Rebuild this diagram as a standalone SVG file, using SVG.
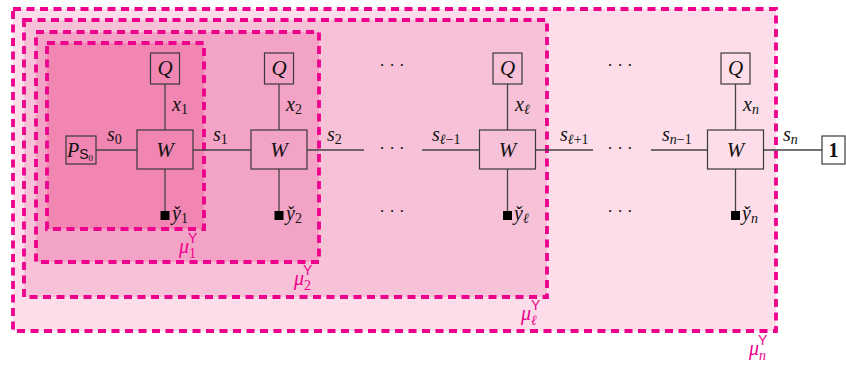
<svg xmlns="http://www.w3.org/2000/svg" width="846" height="371" viewBox="0 0 846 371">
<style>
.reg{stroke:#ec008c;stroke-width:3.8;stroke-dasharray:8 5.5}
.box{fill:none;stroke:#3a3a3a;stroke-width:1.2}
.ln{stroke:#444;stroke-width:1.3;fill:none}
.m{font-family:"Liberation Serif",serif;font-style:italic;font-size:20px;fill:#111}
.big{font-size:21px}
.up{font-family:"Liberation Serif",serif;font-style:normal}
.sub{font-size:14px}
.sf{font-family:"Liberation Sans","DejaVu Sans",sans-serif;font-style:normal}
.mu{font-family:"Liberation Serif",serif;font-style:italic;font-size:20px;fill:#ec008c}
.dots{font-family:"Liberation Serif",serif;font-size:17px;fill:#111;text-anchor:middle}
.sq{fill:#000}
</style>
<g id="regions">
<rect id="mu_n" class="reg" x="13" y="9" width="763" height="322" fill="#fcdde9"/>
<rect id="mu_l" class="reg" x="24" y="20" width="523" height="277" fill="#f7c1d7"/>
<rect id="mu_2" class="reg" x="36" y="32" width="283" height="230" fill="#f3a3c5"/>
<rect id="mu_1" class="reg" x="47" y="43" width="157" height="186" fill="#f086b1"/>
</g>
<g id="connectors">
<line class="ln" x1="96" y1="150" x2="137" y2="150"/>
<line class="ln" x1="193" y1="150" x2="251" y2="150"/>
<line class="ln" x1="307" y1="150" x2="364" y2="150"/>
<line class="ln" x1="422" y1="150" x2="479.5" y2="150"/>
<line class="ln" x1="535.5" y1="150" x2="593" y2="150"/>
<line class="ln" x1="651" y1="150" x2="707.5" y2="150"/>
<line class="ln" x1="763.5" y1="150" x2="822" y2="150"/>
<line class="ln" x1="165" y1="84" x2="165" y2="130"/>
<line class="ln" x1="279" y1="84" x2="279" y2="130"/>
<line class="ln" x1="507.5" y1="84" x2="507.5" y2="130"/>
<line class="ln" x1="735.5" y1="84" x2="735.5" y2="130"/>
<line class="ln" x1="165" y1="169" x2="165" y2="212"/>
<line class="ln" x1="279" y1="169" x2="279" y2="212"/>
<line class="ln" x1="507.5" y1="169" x2="507.5" y2="212"/>
<line class="ln" x1="735.5" y1="169" x2="735.5" y2="212"/>
<text class="m" x="107" y="141">s<tspan class="sub up" dy="3">0</tspan></text>
<text class="m" x="213" y="141">s<tspan class="sub up" dy="3">1</tspan></text>
<text class="m" x="327" y="141">s<tspan class="sub up" dy="3">2</tspan></text>
<text class="m" x="432" y="141">s<tspan class="sub" dy="3">ℓ<tspan class="up">−1</tspan></tspan></text>
<text class="m" x="560" y="141">s<tspan class="sub" dy="3">ℓ<tspan class="up">+1</tspan></tspan></text>
<text class="m" x="662" y="141">s<tspan class="sub" dy="3">n<tspan class="up">−1</tspan></tspan></text>
<text class="m" x="783" y="141">s<tspan class="sub" dy="3">n</tspan></text>
<text class="m" x="172" y="111">x<tspan class="sub up" dy="3">1</tspan></text>
<text class="m" x="286" y="111">x<tspan class="sub up" dy="3">2</tspan></text>
<text class="m" x="515" y="111">x<tspan class="sub" dy="3">ℓ</tspan></text>
<text class="m" x="743" y="111">x<tspan class="sub" dy="3">n</tspan></text>
</g>
<g id="P0"><rect class="box" x="66" y="136" width="30" height="28"/><text class="m" x="67" y="157">P<tspan class="sub sf" dy="2">S</tspan><tspan class="up" font-size="9" dy="2">0</tspan></text></g>
<g id="one"><rect class="box" x="822" y="136" width="23" height="28" fill="#fff"/><text class="up" x="833.5" y="157" font-size="20" font-weight="bold" text-anchor="middle" fill="#111">1</text></g>
<g id="Q1"><rect class="box" x="150.5" y="53" width="29" height="31"/><text class="m big" x="165" y="75" text-anchor="middle">Q</text></g>
<g id="Q2"><rect class="box" x="264.5" y="53" width="29" height="31"/><text class="m big" x="279" y="75" text-anchor="middle">Q</text></g>
<g id="Ql"><rect class="box" x="493" y="53" width="29" height="31"/><text class="m big" x="507.5" y="75" text-anchor="middle">Q</text></g>
<g id="Qn"><rect class="box" x="721" y="53" width="29" height="31"/><text class="m big" x="735.5" y="75" text-anchor="middle">Q</text></g>
<g id="W1"><rect class="box" x="137" y="130" width="56" height="39"/><text class="m big" x="165" y="157" text-anchor="middle">W</text></g>
<g id="W2"><rect class="box" x="251" y="130" width="56" height="39"/><text class="m big" x="279" y="157" text-anchor="middle">W</text></g>
<g id="Wl"><rect class="box" x="479.5" y="130" width="56" height="39"/><text class="m big" x="507.5" y="157" text-anchor="middle">W</text></g>
<g id="Wn"><rect class="box" x="707.5" y="130" width="56" height="39"/><text class="m big" x="735.5" y="157" text-anchor="middle">W</text></g>
<g id="Y1"><rect class="sq" x="160.5" y="211" width="9" height="9"/><text class="m" x="172" y="220">y̌<tspan class="sub up" dy="3">1</tspan></text></g>
<g id="Y2"><rect class="sq" x="274.5" y="211" width="9" height="9"/><text class="m" x="286" y="220">y̌<tspan class="sub up" dy="3">2</tspan></text></g>
<g id="Yl"><rect class="sq" x="503" y="211" width="9" height="9"/><text class="m" x="514" y="220">y̌<tspan class="sub" dy="3">ℓ</tspan></text></g>
<g id="Yn"><rect class="sq" x="731" y="211" width="9" height="9"/><text class="m" x="742" y="220">y̌<tspan class="sub" dy="3">n</tspan></text></g>
<g id="dots">
<text class="dots" x="392" y="71">· · ·</text>
<text class="dots" x="392" y="154">· · ·</text>
<text class="dots" x="392" y="217">· · ·</text>
<text class="dots" x="620" y="71">· · ·</text>
<text class="dots" x="620" y="154">· · ·</text>
<text class="dots" x="620" y="217">· · ·</text>
</g>
<g id="labels">
<text class="mu" x="179" y="253">μ<tspan class="sub up" dy="5">1</tspan><tspan class="sub sf" dx="-8" dy="-15">Y</tspan></text>
<text class="mu" x="294" y="285">μ<tspan class="sub up" dy="5">2</tspan><tspan class="sub sf" dx="-8" dy="-15">Y</tspan></text>
<text class="mu" x="521" y="320">μ<tspan class="sub" dy="5">ℓ</tspan><tspan class="sub sf" dx="-6" dy="-15">Y</tspan></text>
<text class="mu" x="749" y="355">μ<tspan class="sub" dy="5">n</tspan><tspan class="sub sf" dx="-8" dy="-15">Y</tspan></text>
</g>
</svg>
